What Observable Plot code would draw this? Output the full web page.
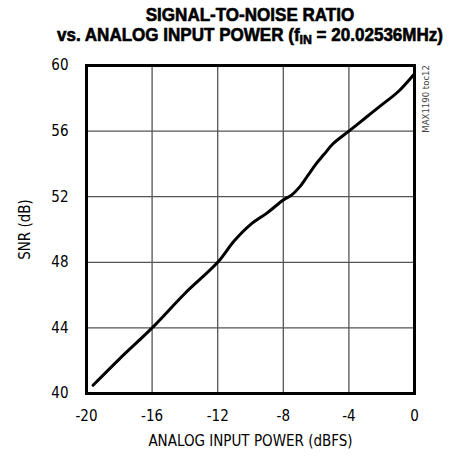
<!DOCTYPE html>
<html>
<head>
<meta charset="utf-8">
<script src="https://cdn.jsdelivr.net/npm/d3@7"></script>
<script src="https://cdn.jsdelivr.net/npm/@observablehq/plot@0.6"></script>
<style>
  body { margin: 0; background: #fff; }
  #wrap { position: relative; width: 451px; height: 457px; font-family: "DejaVu Sans Condensed", "Liberation Sans", sans-serif; overflow: hidden; }
  #chart { position: absolute; left: 0; top: 0; }
  .tline { position: absolute; left: 250px; white-space: nowrap; font-family: "Liberation Sans", Arial, sans-serif; font-weight: bold; font-size: 18px; line-height: 17px; height: 17px; color: #000; transform-origin: 0 0; -webkit-text-stroke: 0.6px #000; }
  .tline sub { font-size: 13px; vertical-align: -3px; line-height: 0; }
  #t1 { top: 6.5px; }
  #t2 { top: 26.8px; }
  #side { position: absolute; left: 420px; top: 65px; width: 68px; height: 12px; transform-origin: 0 0; transform: translate(0, 68px) rotate(-90deg); font-size: 9.5px; color: #444; white-space: nowrap; text-align: right; line-height: 12px; }
</style>
</head>
<body>
<div id="wrap">
  <div id="chart"></div>
  <div class="tline" id="t1">SIGNAL-TO-NOISE RATIO</div>
  <div class="tline" id="t2">vs. ANALOG INPUT POWER (f<sub>IN</sub> = 20.02536MHz)</div>
  <div id="side">MAX1190 toc12</div>
</div>
<script>
const inputPower = [-19.6, -18, -16, -14, -12, -11, -10, -9, -8, -7.5, -7, -6.5, -6, -5.5, -5, -4, -3, -2, -1, 0];
const snr = [40.5, 42.1, 44.0, 46.1, 48.0, 49.3, 50.3, 51.0, 51.8, 52.1, 52.6, 53.3, 54.0, 54.6, 55.2, 56.0, 56.8, 57.6, 58.4, 59.5];
const xTicks = [-20, -16, -12, -8, -4, 0];
const yTicks = [40, 44, 48, 52, 56, 60];
const xInner = [-16, -12, -8, -4];
const yInner = [44, 48, 52, 56];

const data = inputPower.map((x, i) => ({x, y: snr[i]}));

const chart = Plot.plot({
  width: 451,
  height: 457,
  marginTop: 65,
  marginBottom: 64,
  marginLeft: 86,
  marginRight: 37,
  style: {fontFamily: '"DejaVu Sans Condensed", sans-serif', fontSize: "15px", color: "#000", background: "#fff"},
  x: {domain: [-20, 0]},
  y: {domain: [40, 60]},
  marks: [
    Plot.ruleX(xInner, {stroke: "#555", strokeWidth: 1.3}),
    Plot.ruleY(yInner, {stroke: "#555", strokeWidth: 1.3}),
    Plot.line(data, {x: "x", y: "y", stroke: "#000", strokeWidth: 3, curve: "catmull-rom"}),
    Plot.frame({stroke: "#000", strokeWidth: 3}),
    Plot.axisX({ticks: xTicks, tickSize: 0, tickPadding: 17, tickFormat: d => String(d), label: "ANALOG INPUT POWER (dBFS)", labelAnchor: "center", labelArrow: "none", labelOffset: 52}),
    Plot.axisY({ticks: yTicks, tickSize: 0, tickPadding: 18, label: "SNR (dB)", labelAnchor: "center", labelArrow: "none", labelOffset: 67})
  ]
});
document.getElementById("chart").appendChild(chart);

// compress the title lines horizontally to the reference's condensed width
const t1 = document.getElementById("t1"), t2 = document.getElementById("t2");
const w2 = t2.getBoundingClientRect().width;
const s = 386 / w2;
for (const t of [t1, t2]) {
  const w = t.getBoundingClientRect().width;
  t.style.transform = `translateX(${-w * s / 2}px) scaleX(${s})`;
}
</script>
</body>
</html>
